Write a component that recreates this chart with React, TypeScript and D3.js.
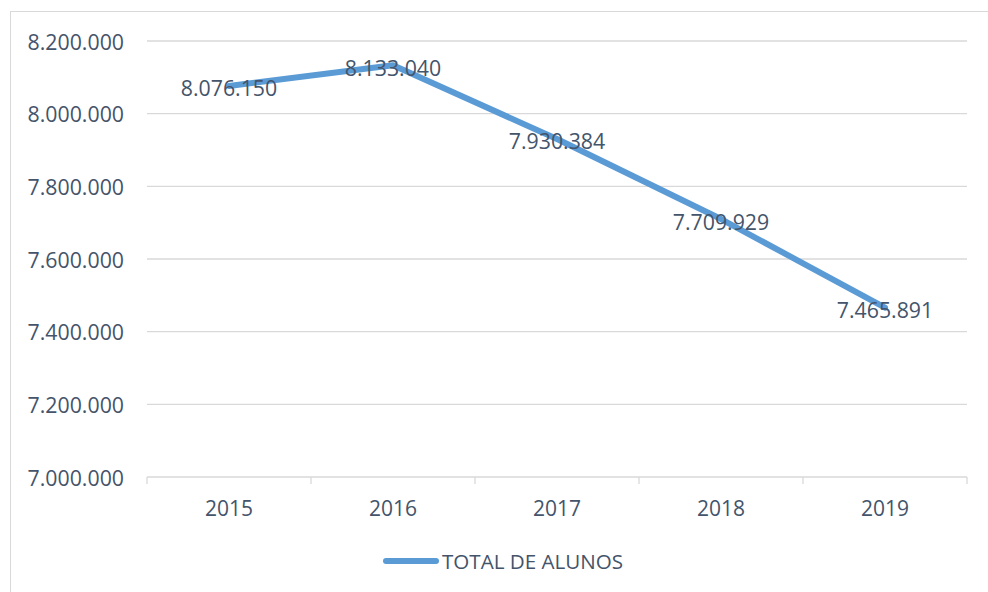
import * as d3 from "d3";

const years = ["2015", "2016", "2017", "2018", "2019"];
const totalAlunos = [8076150, 8133040, 7930384, 7709929, 7465891];
const yTicks = [7000000, 7200000, 7400000, 7600000, 7800000, 8000000, 8200000];
const seriesName = "TOTAL DE ALUNOS";

const width = 988;
const height = 592;
const plot = { left: 147, right: 967, top: 41, bottom: 477 };
const font = "'Open Sans', 'Liberation Sans', sans-serif";
const textColor = "#44546A";
const gridColor = "#D9D9D9";
const lineColor = "#5B9BD5";

// 8.200.000 style
const fmt = (v: number) => d3.format(",")(v).replace(/,/g, ".");

const App = () => {
  const x = d3.scaleBand().domain(years).range([plot.left, plot.right]);
  const y = d3.scaleLinear().domain([7000000, 8200000]).range([plot.bottom, plot.top]);

  const pts = years.map((yr, i) => ({ yr, v: totalAlunos[i] }));
  const line = d3
    .line<{ yr: string; v: number }>()
    .x((d) => (x(d.yr) as number) + x.bandwidth() / 2)
    .y((d) => y(d.v));

  const bounds = [...years.map((yr) => x(yr) as number), plot.right];

  return (
    <svg
      width={width}
      height={height}
      style={{ position: "absolute", left: 0, top: 0, display: "block", background: "#fff" }}
    >
      <rect x={10.5} y={11.5} width={1000} height={600} fill="#fff" stroke={gridColor} strokeWidth={1} />

      {yTicks.map((t) => (
        <g key={t}>
          {t !== 7000000 && (
            <line x1={plot.left} x2={plot.right} y1={y(t)} y2={y(t)} stroke={gridColor} strokeWidth={1.3} />
          )}
          <text
            x={124}
            y={y(t)}
            textAnchor="end"
            dominantBaseline="central"
            fontFamily={font}
            fontSize={21.3}
            fill={textColor}
          >
            {fmt(t)}
          </text>
        </g>
      ))}

      {/* category axis */}
      <line x1={plot.left} x2={plot.right} y1={plot.bottom} y2={plot.bottom} stroke={gridColor} strokeWidth={1.3} />
      {bounds.map((b, i) => (
        <line key={i} x1={b} x2={b} y1={plot.bottom} y2={plot.bottom + 7} stroke={gridColor} strokeWidth={1.3} />
      ))}
      {years.map((yr) => (
        <text
          key={yr}
          x={(x(yr) as number) + x.bandwidth() / 2}
          y={508}
          textAnchor="middle"
          dominantBaseline="central"
          fontFamily={font}
          fontSize={21}
          fill={textColor}
        >
          {yr}
        </text>
      ))}

      <path d={line(pts) ?? ""} fill="none" stroke={lineColor} strokeWidth={6} strokeLinejoin="round" strokeLinecap="round" />

      {pts.map((p) => (
        <text
          key={p.yr}
          x={(x(p.yr) as number) + x.bandwidth() / 2}
          y={y(p.v) + 2}
          textAnchor="middle"
          dominantBaseline="central"
          fontFamily={font}
          fontSize={21.3}
          fill={textColor}
        >
          {fmt(p.v)}
        </text>
      ))}

      {/* legend */}
      <line x1={386} x2={436} y1={561} y2={561} stroke={lineColor} strokeWidth={6} strokeLinecap="round" />
      <text x={442} y={561} dominantBaseline="central" fontFamily={font} fontSize={20.6} fill={textColor}>
        {seriesName}
      </text>
    </svg>
  );
};

export default App;
